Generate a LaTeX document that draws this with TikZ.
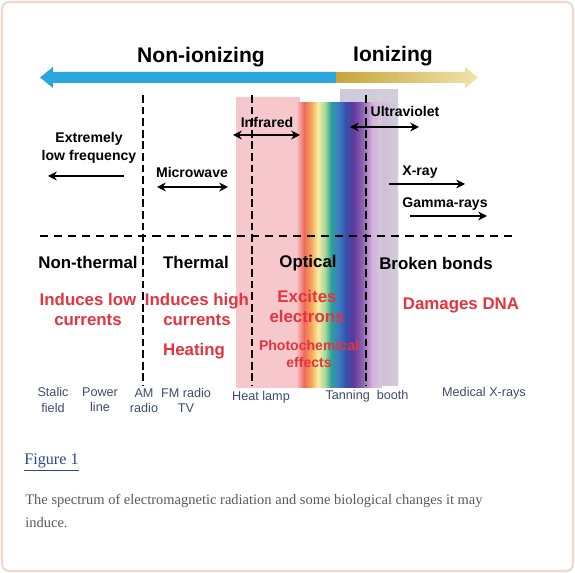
\documentclass[tikz,border=0pt]{standalone}
\usepackage{fontspec}
\setmainfont{Liberation Sans}
\newfontfamily\capfont{Liberation Serif}
\usepackage{xcolor}
\usetikzlibrary{arrows.meta, positioning}

\definecolor{framec}{HTML}{F0D9C8}
\definecolor{nonion}{HTML}{2AA6DC}
\definecolor{goldA}{HTML}{C6A53A}
\definecolor{goldB}{HTML}{F0E4AC}
\definecolor{effred}{HTML}{E4343F}
\definecolor{devc}{HTML}{3E4C70}
\definecolor{pinkz}{HTML}{F6C8CC}
\definecolor{redb}{HTML}{EE6A5E}
\definecolor{orangeb}{HTML}{F6A45A}
\definecolor{yellowb}{HTML}{F7EDA0}
\definecolor{lgreenb}{HTML}{A8D89A}
\definecolor{tealb}{HTML}{2AA296}
\definecolor{blueb}{HTML}{3C7CC4}
\definecolor{dblueb}{HTML}{3650AA}
\definecolor{indigob}{HTML}{5B3A9C}
\definecolor{violetb}{HTML}{8C62B0}
\definecolor{lavb}{HTML}{D4B0DC}
\definecolor{lavtop}{HTML}{D2C8DE}
\definecolor{grayb}{HTML}{D0CFD8}
\definecolor{figlink}{HTML}{2B4A8C}
\definecolor{capc}{HTML}{5A5A5A}

\begin{document}
\begin{tikzpicture}[
    x=0.02cm, y=-0.02cm,
    % text styles
    title/.style={font=\bfseries\fontsize{12}{14}\selectfont, inner sep=0},
    lbl/.style={font=\bfseries\fontsize{8}{10.2}\selectfont, align=center, inner sep=0},
    zone/.style={font=\bfseries\fontsize{9.6}{11.4}\selectfont, inner sep=0},
    effect/.style={font=\bfseries\fontsize{9.6}{11.4}\selectfont, text=effred, align=center, inner sep=0},
    smalleffect/.style={font=\bfseries\fontsize{8}{9.4}\selectfont, text=effred, align=center, inner sep=0},
    device/.style={font=\fontsize{7.2}{8.6}\selectfont, text=devc, align=center, inner sep=0},
    bound/.style={line width=1.7pt, dash pattern=on 4.5pt off 2.1pt},
    divider/.style={line width=1.1pt, dash pattern=on 4.6pt off 3.4pt},
    span/.style={{Stealth[length=5pt,width=5pt]}-{Stealth[length=5pt,width=5pt]}, line width=1.1pt},
    oneway/.style={-{Stealth[length=5pt,width=5pt]}, line width=1.1pt}
]
\useasboundingbox (0,0) rectangle (575,573);
\fill[white] (0,0) rectangle (575,573);
\draw[framec, line width=1.2pt, rounded corners=4pt] (2,2) rectangle (573,571);

% spectrum bands behind everything
\fill[pinkz] (236,97) rectangle (300,388);
\shade[left color=lavtop, right color=grayb] (340,90) rectangle (398,386);
\shade[left color=lavb, right color=grayb] (372,103) rectangle (398,386);
\foreach \xa/\xb/\ca/\cb in {296/304/pinkz/redb, 304/311/redb/orangeb,
    311/318/orangeb/yellowb, 318/325/yellowb/lgreenb, 325/331/lgreenb/tealb,
    331/338/tealb/blueb, 338/346/blueb/dblueb, 346/353/dblueb/indigob,
    353/362/indigob/violetb, 362/372/violetb/lavb, 372/382/lavb/grayb}
  \shade[left color=\ca, right color=\cb] (\xa,103) rectangle (\xb,388);

% top arrow
\fill[nonion] (336,72) -- (53,72) -- (53,67) -- (40,77.5) -- (53,88) -- (53,83) -- (336,83) -- cycle;
\shade[left color=goldA, right color=goldB] (336,72) -- (465,72) -- (465,67) -- (478,77.5)
  -- (465,88) -- (465,83) -- (336,83) -- cycle;
\node[title] (nonion) at (201,57) {Non-ionizing};
\node[title] (ion) at (393,56) {Ionizing};

% boundaries
\draw[bound] (143,95) -- (143,385);
\draw[bound] (252,95) -- (252,385);
\draw[bound] (366,95) -- (366,385);
\draw[divider] (40,236) -- (514,236);

% wavebands
\node[lbl] (elf) at (89,148) {Extremely\\low frequency};
\coordinate (elf-r) at (124,176);
\coordinate (elf-l) at (48,176);
\draw[oneway] (elf-r) -- (elf-l);

\node[lbl] (micro) at (192,172) {Microwave};
\coordinate (mw-l) at (157,187);
\coordinate (mw-r) at (228,187);
\draw[span] (mw-l) -- (mw-r);

\node[lbl] (ir) at (267,122) {Infrared};
\coordinate (ir-l) at (233,135);
\coordinate (ir-r) at (300,135);
\draw[span] (ir-l) -- (ir-r);

\node[lbl] (uv) at (405,111) {Ultraviolet};
\coordinate (uv-l) at (350,127);
\coordinate (uv-r) at (419,127);
\draw[span] (uv-l) -- (uv-r);

\node[lbl] (xray) at (420,172) {X-ray};
\coordinate (xr-l) at (389,184);
\coordinate (xr-r) at (465,184);
\draw[oneway] (xr-l) -- (xr-r);

\node[lbl] (gamma) at (445,204) {Gamma-rays};
\coordinate (gr-l) at (410,216);
\coordinate (gr-r) at (487,216);
\draw[oneway] (gr-l) -- (gr-r);

% zones and effects
\node[zone] (nonth) at (88,262) {Non-thermal};
\node[zone] (therm) at (196,262) {Thermal};
\node[zone] (optic) at (308,263) {Optical};
\node[zone] (broken) at (436,263) {Broken bonds};

\node[effect] (low) at (88,309) {Induces low\\currents};
\node[effect] (high) at (197,309) {Induces high\\currents};
\node[effect] (heat) at (194,351) {Heating};
\node[effect] (excite) at (307,306) {Excites\\electrons};
\node[smalleffect] (photo) at (309,354) {Photochemical\\effects};
\node[effect] (dna) at (461,305) {Damages DNA};

% sources
\node[device] (static) at (53,400) {Stalic\\field};
\node[device] (power) at (100,400) {Power\\line};
\node[device] (am) at (144,401) {AM\\radio};
\node[device] (fm) at (186,400) {FM radio\\TV};
\node[device] (lamp) at (261,397) {Heat lamp};
\node[device] (tan) at (367,396) {Tanning\ \ booth};
\node[device] (medx) at (484,393) {Medical X-rays};

% caption
\node[font=\capfont\fontsize{9.2}{10}\selectfont, text=figlink, anchor=west, inner sep=0] (fig) at (24,463) {\underline{Figure 1}};
\node[font=\capfont\fontsize{8.25}{13.1}\selectfont, text=capc, anchor=north west, align=left, inner sep=0]
  (cap) at (25,494) {The spectrum of electromagnetic radiation and some biological changes it may\\induce.};
\end{tikzpicture}
\end{document}
